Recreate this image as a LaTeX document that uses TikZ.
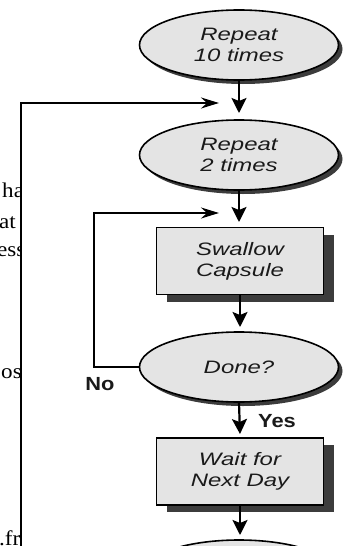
\documentclass[tikz,border=0pt]{standalone}
\usepackage{fontspec}
\setmainfont{Liberation Serif}
\newfontfamily\arialwide[FakeStretch=1.33]{Liberation Sans}
\newfontfamily\arialbold[FakeStretch=1.15]{Liberation Sans}
\newfontfamily\serifwide[FakeStretch=1.1]{Liberation Serif}
\usetikzlibrary{shapes.geometric,shadows,arrows.meta}
\definecolor{boxgray}{HTML}{E4E4E4}
\definecolor{shadowgray}{HTML}{3C3C3C}
\definecolor{inkgray}{HTML}{1A1A1A}
\tikzset{
  oval/.style={ellipse, draw=black, line width=1.6pt, fill=boxgray,
    minimum width=199pt, minimum height=70pt, inner sep=0pt, align=center,
    text=inkgray, font=\arialwide\itshape\fontsize{18}{21}\selectfont,
    drop shadow={shadow xshift=4pt, shadow yshift=-4pt, fill=shadowgray, opacity=1}},
  stepbox/.style={rectangle, draw=black, line width=1.6pt, fill=boxgray,
    minimum width=167pt, minimum height=67pt, inner sep=0pt, align=center,
    text=inkgray, font=\arialwide\itshape\fontsize{18}{21}\selectfont,
    drop shadow={shadow xshift=10pt, shadow yshift=-7pt, fill=shadowgray, opacity=1}},
  varr/.style={line width=2.2pt, -{Stealth[length=15pt,width=15pt,inset=3pt]}},
  harr/.style={line width=2.2pt, -{Stealth[length=18pt,width=11pt,inset=6pt]}},
  lbl/.style={font=\arialbold\bfseries\fontsize{19}{22}\selectfont, inner sep=0pt, text=inkgray},
  bgtext/.style={font=\serifwide\fontsize{21}{24}\selectfont, anchor=base west, inner sep=0pt, text=black}
}
\begin{document}
\begin{tikzpicture}[x=1pt,y=-1pt]
\useasboundingbox (0,0) rectangle (347,546);
\clip (0,0) rectangle (347,546);

% stray background text fragments
\begin{scope}
  \clip (0,0) rectangle (21,546);
  \node[bgtext] (bg1) at (2,197) {hat};
  \node[bgtext] (bg2) at (-1,228) {at};
  \node[bgtext] (bg3) at (-3,256) {ess};
  \node[bgtext] (bg4) at (1,378) {os};
  \node[bgtext] (bg5) at (-1,545) {.fr};
\end{scope}

% shapes
\node[oval] (e1) at (239,45) {Repeat\\10 times};
\node[oval] (e2) at (239,155) {Repeat\\2 times};
\node[stepbox] (s1) at (240,261) {Swallow\\Capsule};
\node[oval] (done) at (239,367) {Done?};
\node[stepbox] (w1) at (240,471.5) {Wait for\\Next Day};
\node[oval] (e3) at (239,575) {};

% free ends
\coordinate (t1) at (239,113);
\coordinate (t2) at (239,222);
\coordinate (t3) at (240,327);
\coordinate (t4) at (240,434);
\coordinate (t5) at (240,535);
\coordinate (h1) at (219,103);
\coordinate (h2) at (219,213);
\coordinate (c2) at (94,367);
\coordinate (low) at (21,560);

% connectors
\draw[varr] (e1.south) -- (t1);
\draw[varr] (e2.south) -- (t2);
\draw[varr] (s1.south) -- (t3);
\draw[varr] (done.south) -- (t4);
\draw[varr] (w1.south) -- (t5);
\draw[harr] (low) |- (h1);
\draw[harr] (done.west) -- (c2) |- (h2);

% labels
\node[lbl] (no) at (100,384) {No};
\node[lbl] (yes) at (277,421) {Yes};
\end{tikzpicture}
\end{document}
